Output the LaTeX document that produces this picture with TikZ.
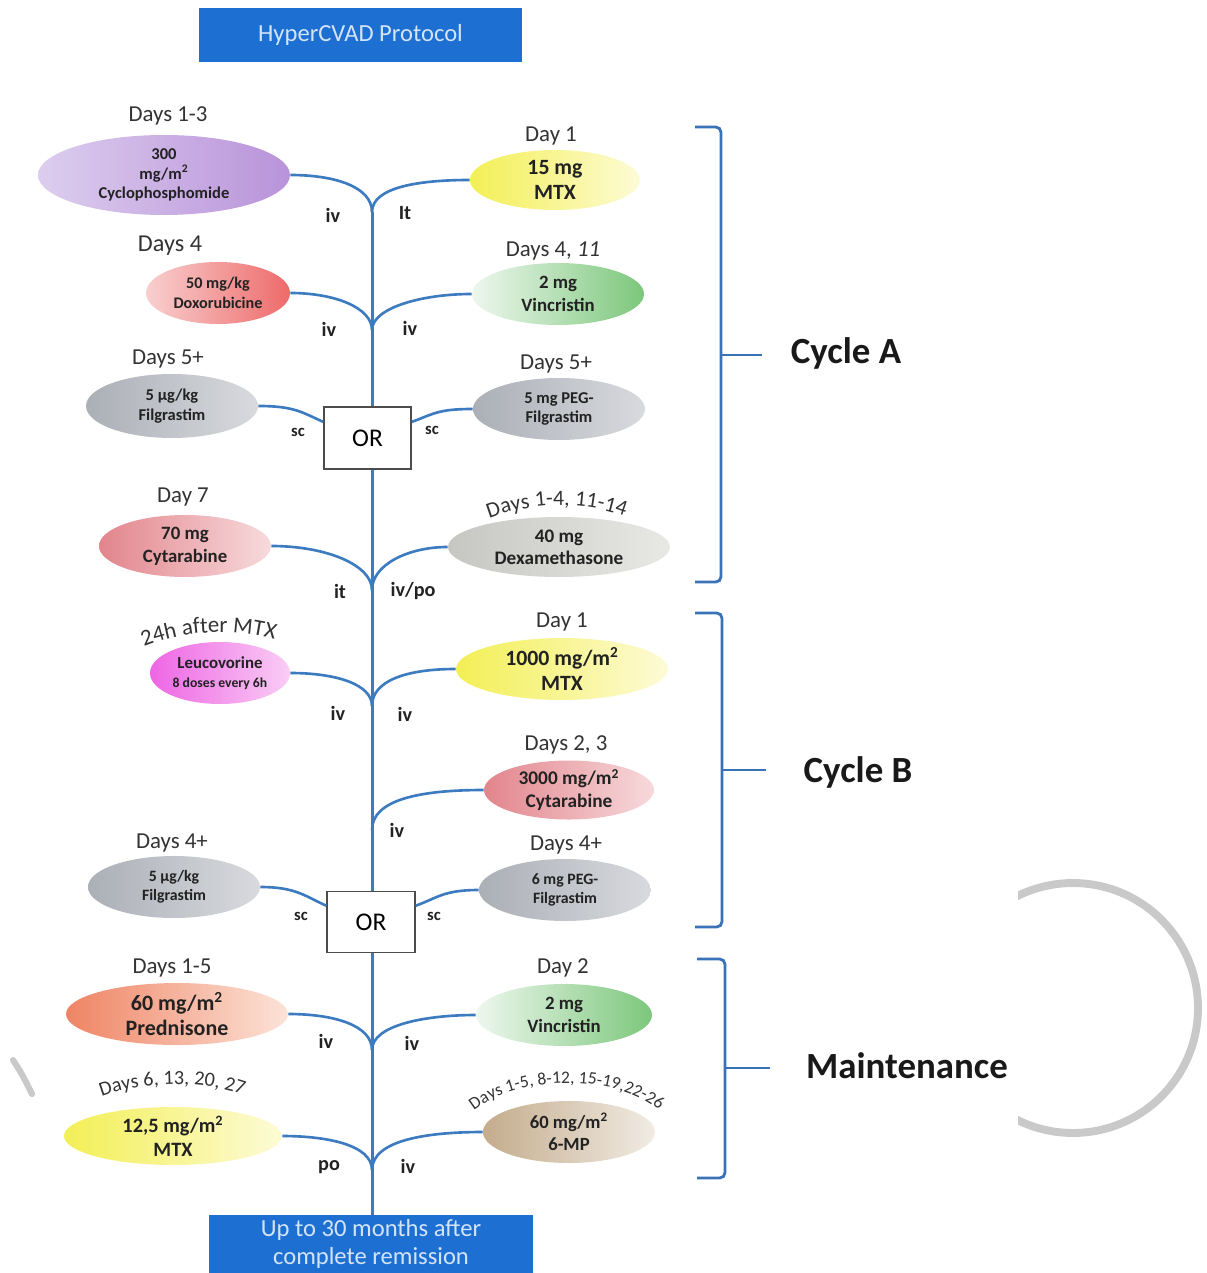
\documentclass[tikz,border=0pt]{standalone}
\usepackage{fontspec}
\setmainfont{Carlito}
\usetikzlibrary{shapes.geometric,decorations.text}
\definecolor{lineblue}{HTML}{3D7BC0}
\definecolor{braceblue}{HTML}{3A72B8}
\definecolor{boxblue}{HTML}{1E6FD2}
\definecolor{boxtext}{HTML}{D2E4FA}
\definecolor{txt}{HTML}{222222}
\definecolor{lbl}{HTML}{333333}
\definecolor{purL}{HTML}{DCCDEE}
\definecolor{purD}{HTML}{B993DA}
\definecolor{yelS}{HTML}{F3EF55}
\definecolor{yelL}{HTML}{FDFBD6}
\definecolor{redL}{HTML}{F9CFCF}
\definecolor{redD}{HTML}{EE6A6A}
\definecolor{grnL}{HTML}{EEF7EE}
\definecolor{grnD}{HTML}{7CC77C}
\definecolor{gryD}{HTML}{ABAFB6}
\definecolor{gryL}{HTML}{D8DADE}
\definecolor{gr2D}{HTML}{C6C6C2}
\definecolor{gr2L}{HTML}{E8E8E5}
\definecolor{pnkD}{HTML}{E2858C}
\definecolor{pnkL}{HTML}{F7DADC}
\definecolor{magD}{HTML}{EE66E4}
\definecolor{magL}{HTML}{F9CDF5}
\definecolor{orgD}{HTML}{EF8464}
\definecolor{orgL}{HTML}{FCE3D8}
\definecolor{brnD}{HTML}{C4AC8C}
\definecolor{brnL}{HTML}{F1EBE4}
\definecolor{ringgray}{HTML}{C9C9C9}
\tikzset{
  drug/.style={ellipse, inner sep=0pt, align=center, text=txt},
  dayl/.style={font=\fontsize{13}{15}\selectfont, text=lbl, inner sep=0pt},
  route/.style={font=\fontsize{11.5}{13}\selectfont\bfseries, text=txt, inner sep=0pt},
  routes/.style={font=\fontsize{9.5}{11}\selectfont\bfseries, text=txt, inner sep=0pt},
  branch/.style={draw=lineblue, line width=1.5pt},
  trunk/.style={draw=lineblue, line width=1.7pt},
  orbox/.style={draw=black!70, line width=0.9pt, fill=white, font=\fontsize{14.5}{16}\selectfont, inner sep=0pt},
  bluebox/.style={fill=boxblue, text=boxtext, align=center, inner sep=0pt, font=\fontsize{14}{15.5}\selectfont},
  brace/.style={draw=braceblue, line width=1.6pt, rounded corners=3pt},
  cyclel/.style={font=\fontsize{21}{24}\selectfont\bfseries, text=black!90, inner sep=0pt},
}
\begin{document}
\begin{tikzpicture}[x=0.02cm, y=-0.02cm]
\useasboundingbox (0,0) rectangle (1206,1273);

% title and bottom boxes
\node[bluebox, minimum width=6.46cm, minimum height=1.08cm] (title) at (360.5,35) {HyperCVAD Protocol};
\node[bluebox, minimum width=6.48cm, minimum height=1.16cm] (bot) at (371,1244) {Up to 30 months after\\complete remission};

% junctions
\coordinate (j1) at (372,212);
\coordinate (j2) at (372,330);
\coordinate (j4) at (372,590);
\coordinate (j5) at (372,706);
\coordinate (j6) at (372,830);
\coordinate (j8) at (372,1050);
\coordinate (j9) at (372,1170);

% OR boxes
\node[orbox, minimum width=1.74cm, minimum height=1.24cm] (or1) at (367.5,438) {OR};
\node[orbox, minimum width=1.76cm, minimum height=1.22cm] (or2) at (371,922) {OR};

% Cycle A drugs
\node[drug, minimum width=5.04cm, minimum height=1.6cm, left color=purL, right color=purD, font=\fontsize{9.4}{11}\selectfont\bfseries] (cyc) at (164,175) {300\\mg/m\textsuperscript{2}\\Cyclophosphomide};
\node[drug, minimum width=3.4cm, minimum height=1.2cm, left color=yelS, right color=yelL, font=\fontsize{12.4}{14.5}\selectfont\bfseries] (mtxA) at (555,180) {15 mg\\MTX};
\node[drug, minimum width=2.88cm, minimum height=1.24cm, left color=redL, right color=redD, font=\fontsize{9.2}{11}\selectfont\bfseries] (dox) at (218,293) {50 mg/kg\\Doxorubicine};
\node[drug, minimum width=3.44cm, minimum height=1.24cm, left color=grnL, right color=grnD, font=\fontsize{10.7}{13}\selectfont\bfseries] (vinA) at (558,294) {2 mg\\Vincristin};
\node[drug, minimum width=3.44cm, minimum height=1.28cm, left color=gryD, right color=gryL, font=\fontsize{9.4}{11}\selectfont\bfseries] (filA) at (172,406) {5 µg/kg\\Filgrastim};
\node[drug, minimum width=3.44cm, minimum height=1.24cm, left color=gryD, right color=gryL, font=\fontsize{9.4}{11}\selectfont\bfseries] (pegA) at (559,409) {5 mg PEG-\\Filgrastim};
\node[drug, minimum width=3.44cm, minimum height=1.24cm, left color=pnkD, right color=pnkL, font=\fontsize{10.7}{13}\selectfont\bfseries] (cytA) at (185,546) {70 mg\\Cytarabine};
\node[drug, minimum width=4.44cm, minimum height=1.2cm, left color=gr2D, right color=gr2L, font=\fontsize{10.9}{12.5}\selectfont\bfseries] (dexa) at (559,547) {40 mg\\Dexamethasone};

% Cycle B drugs
\node[drug, minimum width=2.8cm, minimum height=1.24cm, left color=magD, right color=magL, font=\fontsize{9.6}{11}\selectfont\bfseries] (leu) at (220,673) {Leucovorine\\{\fontsize{7.8}{9}\selectfont 8 doses every 6h}};
\node[drug, minimum width=4.24cm, minimum height=1.24cm, left color=yelS, right color=yelL, font=\fontsize{12.4}{14.5}\selectfont\bfseries] (mtxB) at (562,669) {1000 mg/m\textsuperscript{2}\\MTX};
\node[drug, minimum width=3.4cm, minimum height=1.16cm, left color=pnkD, right color=pnkL, font=\fontsize{11}{13}\selectfont\bfseries] (cytB) at (569,790) {3000 mg/m\textsuperscript{2}\\Cytarabine};
\node[drug, minimum width=3.44cm, minimum height=1.24cm, left color=gryD, right color=gryL, font=\fontsize{9}{11}\selectfont\bfseries] (filB) at (174,887) {5 µg/kg\\Filgrastim};
\node[drug, minimum width=3.44cm, minimum height=1.24cm, left color=gryD, right color=gryL, font=\fontsize{9}{11}\selectfont\bfseries] (pegB) at (565,890) {6 mg PEG-\\Filgrastim};

% Maintenance drugs
\node[drug, minimum width=4.44cm, minimum height=1.24cm, left color=orgD, right color=orgL, font=\fontsize{12.5}{14}\selectfont\bfseries] (pred) at (177,1014) {60 mg/m\textsuperscript{2}\\Prednisone};
\node[drug, minimum width=3.52cm, minimum height=1.24cm, left color=grnL, right color=grnD, font=\fontsize{10.7}{13}\selectfont\bfseries] (vinM) at (564,1015) {2 mg\\Vincristin};
\node[drug, minimum width=4.36cm, minimum height=1.16cm, left color=yelS, right color=yelL, font=\fontsize{11.6}{13.5}\selectfont\bfseries] (mtxM) at (173,1136) {12,5 mg/m\textsuperscript{2}\\MTX};
\node[drug, minimum width=3.44cm, minimum height=1.24cm, left color=brnD, right color=brnL, font=\fontsize{10.6}{12.5}\selectfont\bfseries] (mp) at (569,1132) {60 mg/m\textsuperscript{2}\\6-MP};

% trunk
\draw[trunk] (j1) -- (j1 |- or1.north);
\draw[trunk] (j1 |- or1.south) -- (j1 |- or2.north);
\draw[trunk] (j1 |- or2.south) -- (j1 |- bot.north);

% branches
\draw[branch] (cyc.east) .. controls +(45,0) and +(0,-25) .. (j1);
\draw[branch] (mtxA.west) .. controls +(-50,0) and +(0,-25) .. (j1);
\draw[branch] (dox.east) .. controls +(45,0) and +(0,-22) .. (j2);
\draw[branch] (vinA.west) .. controls +(-50,0) and +(0,-22) .. (j2);
\draw[branch] (filA.east) .. controls +(35,0) and +(-22,-10) .. (or1.160);
\draw[branch] (pegA.west) .. controls +(-35,0) and +(22,-8) .. (or1.20);
\draw[branch] (cytA.east) .. controls +(55,0) and +(0,-25) .. (j4);
\draw[branch] (dexa.west) .. controls +(-40,0) and +(0,-25) .. (j4);
\draw[branch] (leu.east) .. controls +(45,0) and +(0,-22) .. (j5);
\draw[branch] (mtxB.west) .. controls +(-50,0) and +(0,-25) .. (j5);
\draw[branch] (cytB.west) .. controls +(-65,0) and +(0,-30) .. (j6);
\draw[branch] (filB.east) .. controls +(35,0) and +(-22,-10) .. (or2.160);
\draw[branch] (pegB.west) .. controls +(-35,0) and +(22,-8) .. (or2.20);
\draw[branch] (pred.east) .. controls +(45,0) and +(0,-25) .. (j8);
\draw[branch] (vinM.west) .. controls +(-50,0) and +(0,-25) .. (j8);
\draw[branch] (mtxM.east) .. controls +(45,0) and +(0,-25) .. (j9);
\draw[branch] (mp.west) .. controls +(-55,0) and +(0,-30) .. (j9);

% route labels
\node[route] (r1) at (333,215) {iv};
\node[route] (r2) at (405,213) {It};
\node[route] (r3) at (329,329) {iv};
\node[route] (r4) at (410,328) {iv};
\node[routes] (r5) at (298,432) {sc};
\node[routes] (r6) at (432,430) {sc};
\node[route] (r7) at (340,591) {it};
\node[route] (r8) at (413,591) {iv/po};
\node[route] (r9) at (338,713) {iv};
\node[route] (r10) at (405,714) {iv};
\node[route] (r11) at (397,830) {iv};
\node[routes] (r12) at (301,916) {sc};
\node[routes] (r13) at (434,916) {sc};
\node[route] (r14) at (326,1041) {iv};
\node[route] (r15) at (412,1043) {iv};
\node[route] (r16) at (329,1167) {po};
\node[route] (r17) at (408,1166) {iv};

% day labels
\node[dayl] (d1) at (168,116) {Days 1-3};
\node[dayl] (d2) at (551,136) {Day 1};
\node[dayl, font=\fontsize{13.8}{15}\selectfont] (d3) at (170,246) {Days 4};
\node[dayl] (d4) at (553,251) {Days 4, \textit{11}};
\node[dayl] (d5) at (168,359) {Days 5+};
\node[dayl] (d6) at (556,364) {Days 5+};
\node[dayl] (d7) at (183,497) {Day 7};
\node[dayl] (d8) at (562,622) {Day 1};
\node[dayl] (d9) at (566,745) {Days 2, 3};
\node[dayl] (d10) at (172,843) {Days 4+};
\node[dayl] (d11) at (566,845) {Days 4+};
\node[dayl] (d12) at (172,968) {Days 1-5};
\node[dayl] (d13) at (563,968) {Day 2};

% arched labels
\path[decorate, decoration={text along path, text align=center,
  text={|\fontsize{12.5}{14}\selectfont\color{lbl}|Days 1-4, 11-14}}]
  (462,532) .. controls (515,498) and (600,496) .. (652,530);
\path[decorate, decoration={text along path, text align=center,
  text={|\fontsize{13}{15}\selectfont\color{lbl}|24h after MTX}}]
  (115,662) .. controls (165,626) and (255,623) .. (305,652);
\path[decorate, decoration={text along path, text align=center,
  text={|\fontsize{11.5}{13}\selectfont\color{lbl}|Days 6, 13, 20, 27}}]
  (75,1110) .. controls (122,1077) and (222,1075) .. (270,1108);
\path[decorate, decoration={text along path, text align=center,
  text={|\fontsize{10}{12}\selectfont\color{lbl}|Days 1-5, 8-12, 15-19,22-26}}]
  (455,1134) .. controls (485,1068) and (645,1064) .. (678,1134);

% braces
\draw[brace] (695,127) -- (721,127) -- (721,582) -- (695,582);
\draw[braceblue, line width=1.6pt] (721,355) -- (762,355);
\node[cyclel] (cA) at (846,353) {Cycle A};
\draw[brace] (695,613) -- (722,613) -- (722,927) -- (695,927);
\draw[braceblue, line width=1.6pt] (722,770) -- (766,770);
\node[cyclel] (cB) at (858,772) {Cycle B};
\draw[brace] (697,959) -- (725,959) -- (725,1178) -- (697,1178);
\draw[braceblue, line width=1.6pt] (725,1068) -- (770,1068);
\node[cyclel] (cM) at (907,1066) {Maintenance};

% grey ring fragments
\begin{scope}
  \clip (1018,860) rectangle (1206,1160);
  \draw[ringgray, line width=4.5pt] (1073,1008) circle[radius=2.5cm];
\end{scope}
\draw[ringgray, line width=3.5pt, line cap=round] (13,1060) .. controls (22,1074) .. (32,1094);
\end{tikzpicture}
\end{document}
